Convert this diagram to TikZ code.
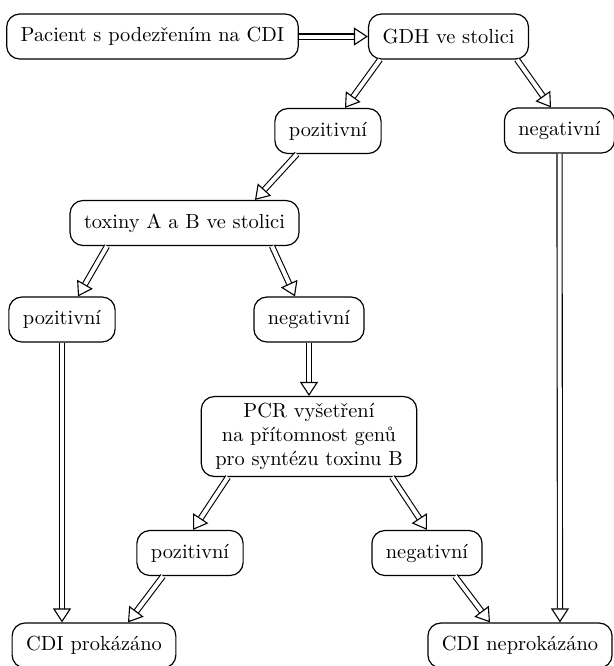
\documentclass[tikz,border=0pt]{standalone}
\usetikzlibrary{arrows.meta}
\begin{document}
\begin{tikzpicture}[x=0.5pt,y=-0.5pt,
	box/.style={draw, rounded corners=6.5pt, line width=0.6pt, inner xsep=7pt, minimum height=22.5pt, align=center, font=\fontsize{10.2}{12}\selectfont},
	arr/.style={double, double distance=2pt, line width=0.55pt, -{Triangle[open,length=7pt,width=9pt]}}]
	\useasboundingbox (0,0) rectangle (614,666);
	\node[box] at (152.5,36.5) (pac) {Pacient s podezřením na CDI};
	\node[box] at (448.5,36.5) (gdh) {GDH ve stolici};
	\node[box] at (328,131) (poz1) {pozitivní};
	\node[box] at (559.5,130.5) (neg1) {negativní};
	\node[box] at (184.5,223) (tox) {toxiny A a B ve stolici};
	\node[box] at (62,319.5) (poz2) {pozitivní};
	\node[box] at (309,319.5) (neg2) {negativní};
	\node[box] at (309,436.5) (pcr) {PCR vyšetření\\na přítomnost genů\\pro syntézu toxinu B};
	\node[box] at (190,553) (poz3) {pozitivní};
	\node[box] at (427,553) (neg3) {negativní};
	\node[box] at (94,645.5) (cdip) {CDI prokázáno};
	\node[box] at (520,645.5) (cdin) {CDI neprokázáno};
	\path (pac) edge[arr] (gdh)
	([xshift=-34.25pt]gdh.south) edge[arr] ([xshift=8.5pt]poz1.north)
	([xshift=34.25pt]gdh.south) edge[arr] ([xshift=-4.25pt]neg1.north)
	([xshift=-15.5pt]poz1.south) edge[arr] ([xshift=35.25pt]tox.north)
	([xshift=-38.75pt]tox.south) edge[arr] ([xshift=8pt]poz2.north)
	([xshift=43.75pt]tox.south) edge[arr] ([xshift=-7pt]neg2.north)
	(poz2.south) edge[arr] ([xshift=-16pt]cdip.north)
	(neg2.south) edge[arr] (pcr.north)
	([xshift=-40.5pt]pcr.south) edge[arr] ([xshift=1.5pt]poz3.north)
	([xshift=41.5pt]pcr.south) edge[arr] (neg3.north)
	([xshift=-13.5pt]poz3.south) edge[arr] ([xshift=17pt]cdip.north)
	([xshift=14pt]neg3.south) edge[arr] ([xshift=-15pt]cdin.north)
	(neg1.south) edge[arr] ([xshift=20pt]cdin.north);
\end{tikzpicture}
\end{document}
